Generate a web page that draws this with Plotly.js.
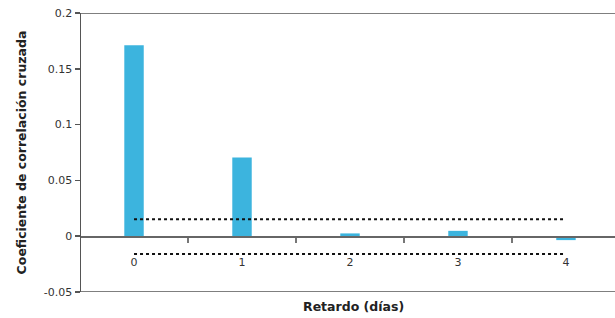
<!DOCTYPE html>
<html><head><meta charset="utf-8">
<script src="https://cdn.plot.ly/plotly-3.0.1.min.js"></script>
<style>html,body{margin:0;padding:0;background:#fff}</style>
</head><body>
<div id="chart" style="width:615px;height:318px"></div>
<script>
const lags = ["0", "1", "2", "3", "4"];
const ccf = [0.171, 0.0705, 0.0025, 0.0048, -0.0035];
const upperBound = [0.0152, 0.0152, 0.0152, 0.0152, 0.0152];
const lowerBound = [-0.016, -0.016, -0.016, -0.016, -0.016];
const yTickVals = [-0.05, 0, 0.05, 0.1, 0.15, 0.2];
const yTickText = ["-0.05", "0", "0.05", "0.1", "0.15", "0.2"];
const xTitle = "Retardo (días)";
const yTitle = "Coeficiente de correlación cruzada";

const font = "DejaVu Sans, sans-serif";
const traces = [
  {type: "bar", x: lags, y: ccf, width: 0.18, marker: {color: "#3CB4DE", line: {width: 0}}, hoverinfo: "none"},
  {type: "scatter", mode: "lines", x: lags, y: upperBound, line: {color: "#111", width: 2, dash: "3px,3px"}, hoverinfo: "none"},
  {type: "scatter", mode: "lines", x: lags, y: lowerBound, line: {color: "#111", width: 2, dash: "3px,3px"}, hoverinfo: "none"}
];
const layout = {
  width: 615, height: 318,
  margin: {l: 81, r: 0, t: 13, b: 26},
  showlegend: false,
  paper_bgcolor: "#fff", plot_bgcolor: "#fff",
  font: {family: font, size: 11, color: "#333"},
  xaxis: {
    type: "category", range: [-0.491, 4.454],
    anchor: "free", position: 56/279,
    showline: true, linecolor: "#666", linewidth: 1.5,
    ticks: "outside", tickson: "boundaries", ticklen: 5, tickcolor: "#777", tickwidth: 1.5,
    ticklabelstandoff: 15,
    showgrid: false, zeroline: false,
    tickfont: {family: font, size: 11, color: "#333"}
  },
  yaxis: {
    range: [-0.05, 0.2],
    tickvals: yTickVals, ticktext: yTickText,
    showline: true, linecolor: "#555", linewidth: 1.5,
    ticks: "outside", ticklen: 5, tickcolor: "#555", tickwidth: 1.5,
    showgrid: false, zeroline: false,
    tickfont: {family: font, size: 11, color: "#333"},
    title: {text: yTitle, font: {family: font, size: 12.5, color: "#222", weight: "bold"}, standoff: 14}
  },
  shapes: [
    {type: "line", xref: "paper", yref: "y", x0: 0, x1: 1, y0: 0.2, y1: 0.2, line: {color: "#555", width: 1.5}},
    {type: "line", xref: "paper", yref: "y", x0: 0, x1: 1, y0: -0.05, y1: -0.05, line: {color: "#555", width: 1.5}}
  ],
  annotations: [
    {text: "<b>" + xTitle + "</b>", xref: "paper", yref: "paper", x: 0.51, y: -14/279, yanchor: "middle", xanchor: "center", showarrow: false, font: {family: font, size: 12.5, color: "#222"}}
  ]
};
Plotly.newPlot("chart", traces, layout, {displayModeBar: false, staticPlot: true});
</script>
</body></html>
